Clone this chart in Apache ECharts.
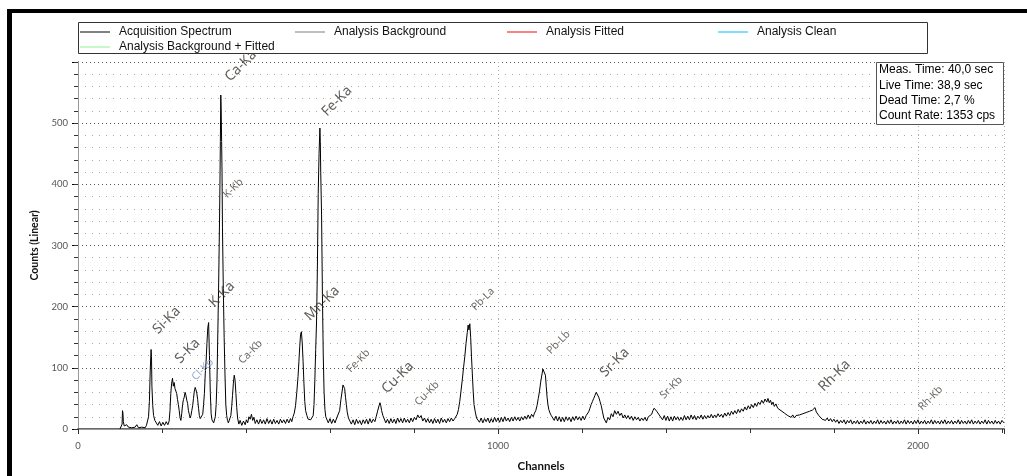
<!DOCTYPE html>
<html><head><meta charset="utf-8">
<script src="https://cdn.jsdelivr.net/npm/echarts@6/dist/echarts.min.js"></script>
<style>html,body{margin:0;padding:0;background:#fff}#c{width:1027px;height:476px}</style>
</head><body><div id="c"></div>
<script>
// Acquisition spectrum: [channel, counts]
const spectrum = [
[100,0],[103,2],[105,8],[106,30],[107,26],[108,12],[110,5],[113,2],[116,7],[120,3],[124,6],[128,2],[132,5],[136,3],[140,7],[144,2],[148,5],[152,3],[156,6],[160,2],[163,6],[166,8],[168,20],[170,45],[172,95],[174,130],[175,118],[176,70],[178,38],[180,22],[183,14],[186,14],[190,6],[194,12],[198,5],[202,11],[206,6],[210,12],[214,7],[217,13],[219,30],[221,58],[223,75],[225,83],[227,70],[229,76],[231,66],[233,62],[235,58],[237,48],[239,40],[241,30],[243,18],[245,14],[247,25],[249,40],[251,48],[253,52],[255,60],[257,55],[259,47],[261,42],[263,30],[265,24],[267,18],[269,22],[271,30],[273,38],[275,50],[277,62],[279,68],[281,64],[283,58],[285,48],[287,34],[289,22],[291,17],[293,14],[295,16],[297,24],[299,40],[301,58],[303,90],[305,110],[307,140],[309,165],[311,174],[313,120],[315,60],[317,25],[319,15],[321,12],[323,10],[325,13],
[327,20],[329,40],[331,80],[333,160],[335,240],[337,340],[338,400],[339,470],[340,546],[341,520],[342,470],[343,420],[344,330],[346,230],[348,150],[350,90],[352,40],[354,22],[356,14],[358,10],[361,12],[364,22],[366,37],[368,55],[370,75],[372,88],[374,80],[376,58],[378,35],[380,18],[383,8],[386,14],[390,6],[394,13],[398,7],[401,15],[404,10],[407,20],[410,16],[413,24],[416,14],[419,19],[422,9],[426,15],[430,8],[434,16],[438,9],[442,15],[446,8],[450,17],[454,9],[458,15],[462,8],[466,16],[470,9],[474,14],[478,8],[482,16],[486,10],[490,15],[494,9],[498,16],[502,10],[506,17],[509,12],[512,20],[515,26],[518,38],[521,60],[524,86],[526,110],[528,135],[530,155],[532,159],[534,140],[536,110],[538,75],[540,45],[542,30],[545,22],[548,16],[551,14],[554,15],[557,18],[560,22],[562,40],[564,80],[566,130],[568,175],[570,260],[572,385],[574,450],[576,492],[577,470],[578,420],[580,350],[582,220],[584,120],[586,60],[588,32],[590,20],[593,18],[596,10],[600,17],[604,9],[608,16],[612,10],[616,18],[620,20],[623,30],[626,48],[629,62],[631,72],[633,75],[635,66],[637,52],[639,40],[641,28],[644,18],[647,18],[651,8],[655,15],[659,7],[663,16],[667,9],[671,14],[675,7],[679,15],[683,9],[687,16],[691,8],[695,17],[699,10],[703,16],[707,12],[710,20],[713,28],[716,36],[719,43],[721,38],[723,30],[726,22],[729,20],[733,10],[737,16],[741,9],[745,17],[749,10],[753,16],[757,9],[761,18],[765,11],[769,17],[773,10],[777,18],[781,11],[785,16],[789,10],[793,18],[797,12],[801,19],[805,15],[809,23],[813,18],[817,22],[821,13],[825,18],[829,11],[833,17],[837,10],[841,16],[845,9],[849,17],[853,10],[857,16],[861,9],[865,18],[869,11],[873,16],[877,10],[881,17],[885,12],[889,18],[893,13],[897,17],[900,19],[903,24],[906,32],[909,45],[912,62],[915,80],[918,100],[921,118],[924,140],[927,158],[929,170],[931,162],[933,172],[935,150],[937,118],[939,90],[941,62],[943,40],[946,28],[949,18],[952,20],[956,11],[960,18],[964,10],[968,17],[972,12],[976,18],[980,10],[984,17],[988,11],[992,19],[996,12],
[1000,18],[1004,11],[1008,19],[1012,12],[1016,20],[1020,13],[1024,18],[1028,12],[1032,19],[1036,13],[1040,20],[1044,14],[1048,19],[1052,13],[1056,20],[1060,15],[1064,21],[1068,16],[1072,23],[1076,17],[1080,24],[1084,20],[1087,26],[1090,30],[1093,38],[1096,50],[1099,62],[1102,78],[1105,90],[1107,98],[1109,100],[1111,95],[1113,88],[1115,70],[1117,52],[1119,40],[1121,32],[1124,26],[1127,22],[1130,22],[1134,14],[1138,21],[1142,13],[1146,20],[1150,12],[1154,19],[1158,12],[1162,20],[1166,14],[1170,19],[1174,12],[1178,20],[1182,14],[1186,21],[1190,15],[1194,20],[1198,14],[1202,21],[1206,15],[1210,22],[1213,24],[1216,28],[1219,34],[1222,40],[1225,45],[1228,50],[1231,55],[1234,60],[1236,58],[1238,60],[1240,52],[1243,45],[1246,38],[1249,28],[1252,18],[1255,16],[1258,10],[1262,19],[1266,15],[1270,25],[1274,20],[1278,30],[1282,24],[1286,29],[1290,22],[1294,26],[1298,18],[1302,23],[1306,17],[1310,22],[1314,16],[1318,21],[1322,14],[1326,20],[1330,15],[1334,19],[1338,13],[1342,18],[1346,14],[1350,19],[1354,13],[1358,20],[1362,20],[1366,24],[1369,30],[1372,34],[1375,32],[1378,29],[1381,27],[1384,23],[1388,22],[1392,15],[1396,22],[1400,14],[1404,21],[1408,13],[1412,20],[1416,13],[1420,21],[1424,15],[1428,20],[1432,14],[1436,19],[1440,14],[1444,22],[1448,15],[1452,21],[1456,15],[1460,23],[1464,16],[1468,22],[1472,15],[1476,21],[1480,17],[1484,23],[1488,16],[1492,22],[1496,17],
[1500,22],[1504,18],[1508,24],[1512,18],[1516,23],[1520,19],[1524,25],[1528,20],[1532,24],[1536,19],[1540,26],[1544,21],[1548,27],[1552,22],[1556,29],[1560,24],[1564,30],[1568,25],[1572,32],[1576,27],[1580,33],[1584,29],[1588,36],[1592,31],[1596,38],[1600,33],[1604,40],[1608,35],[1612,42],[1616,37],[1620,44],[1624,40],[1628,47],[1632,42],[1636,49],[1640,44],[1643,50],[1646,43],[1649,47],[1652,40],[1655,44],[1658,37],[1662,41],[1666,34],[1670,37],[1674,30],[1678,32],[1682,26],[1686,28],[1690,22],[1694,25],[1698,19],[1702,23],[1706,18],[1710,22],[1714,19],[1718,23],[1722,20],[1726,25],[1730,22],[1734,27],[1738,24],[1742,29],[1746,26],[1749,31],[1752,30],[1755,35],[1758,28],[1761,30],[1764,22],[1768,23],[1772,16],[1776,19],[1780,14],[1784,18],[1788,13],[1792,17],[1796,12],[1800,16],[1804,11],[1808,15],[1812,9],[1816,14],[1820,10],[1824,15],[1828,8],[1832,14],[1836,10],[1840,15],[1844,8],[1848,13],[1852,9],[1856,14],[1860,8],[1864,13],[1868,9],[1872,15],[1876,8],[1880,13],[1884,9],[1888,14],[1892,8],[1896,13],[1900,9],[1904,15],[1908,8],[1912,14],[1916,9],[1920,13],[1924,8],[1928,14],[1932,9],[1936,15],[1940,8],[1944,13],[1948,9],[1952,14],[1956,8],[1960,13],[1964,9],[1968,15],[1972,8],[1976,14],[1980,9],[1984,13],[1988,8],[1992,14],[1996,9],
[2000,15],[2004,8],[2008,13],[2012,9],[2016,14],[2020,8],[2024,13],[2028,9],[2032,15],[2036,8],[2040,14],[2044,9],[2048,13],[2052,8],[2056,14],[2060,9],[2064,15],[2068,8],[2072,13],[2076,9],[2080,14],[2084,8],[2088,13],[2092,9],[2096,15],[2100,8],[2104,14],[2108,9],[2112,13],[2116,8],[2120,14],[2124,9],[2128,15],[2132,8],[2136,13],[2140,9],[2144,14],[2148,8],[2152,13],[2156,9],[2160,15],[2164,8],[2168,14],[2172,9],[2176,13],[2180,8],[2184,14],[2188,9],[2192,13],[2196,8],[2200,14],[2205,10]
];
// Peak annotations (anchor in channel / counts units)
const peakNames    = ['Si-Ka','S-Ka','Cl-Kb','K-Ka','Ca-Ka','K-Kb','Ca-Kb','Mn-Ka','Fe-Ka','Fe-Kb','Cu-Ka','Cu-Kb','Pb-La','Pb-Lb','Sr-Ka','Sr-Kb','Rh-Ka','Rh-Kb'];
const peakChannels = [197,250,286,331,369,361,397,559,599,655,742,817,952,1131,1262,1401,1782,2016];
const peakCounts   = [150,102,75,194,563,373,102,172,506,88,53,34,189,118,80,45,56,26];
const seriesNames  = ['Acquisition Spectrum','Analysis Background','Analysis Fitted','Analysis Clean','Analysis Background + Fitted'];
const seriesColors = ['#000000','#808080','#ff0000','#00bfff','#90ee90'];
const infoLines    = ['Meas. Time: 40,0 sec','Live Time: 38,9 sec','Dead Time: 2,7 %','Count Rate: 1353 cps'];
const xName = 'Channels', yName = 'Counts (Linear)';

const chart = echarts.init(document.getElementById('c'), null, {renderer:'canvas'});
const legendPos = [[80,26],[295,26],[507,26],[718,26],[80,41]];
const legends = seriesNames.map((n,i)=>({
  data:[n], left:legendPos[i][0], top:legendPos[i][1], padding:0, z:10,
  icon:'rect', itemWidth:30, itemHeight:1, selectedMode:false,
  textStyle:{fontFamily:'Liberation Sans', fontSize:12, color:'#111', padding:[0,0,0,4]}
}));
const series = [{
  name:seriesNames[0], type:'line', data:spectrum, showSymbol:false, symbol:'none',
  lineStyle:{color:seriesColors[0], width:1}, itemStyle:{color:seriesColors[0]}, z:3, animation:false
}];
for (let i=1;i<seriesNames.length;i++){
  series.push({name:seriesNames[i], type:'line', data:[], showSymbol:false,
    lineStyle:{color:seriesColors[i], width:1}, itemStyle:{color:seriesColors[i]}});
}
series.push({
  name:'peaks', type:'scatter', symbolSize:1, itemStyle:{color:'rgba(0,0,0,0)'}, z:4, silent:true,
  data: peakNames.map((n,i)=>{
    const big = /-Ka$/.test(n);
    return {value:[peakChannels[i], peakCounts[i]], name:n,
      label:{show:true, formatter:n, position:[0,0], rotate:45, align:'left', verticalAlign:'bottom',
        fontFamily:'Noto Sans', fontSize: big?14:10.5,
        color: n==='Cl-Kb' ? '#7d95c4' : (big?'#3a3530':'#4a4540')}};
  })
});
const frame = '#000';
const plain = v => String(v);
chart.setOption({
  animation:false,
  backgroundColor:'#fff',
  legend: legends,
  grid:{left:78, right:23, top:62, bottom:47, containLabel:false, outerBoundsMode:'none'},
  xAxis:[{
    type:'value', min:0, max:2205, interval:1000, position:'bottom',
    name:xName, nameLocation:'middle', nameGap:31,
    nameTextStyle:{fontFamily:'Lato', fontWeight:'bold', fontSize:11.5, color:'#111'},
    axisLine:{show:true, onZero:false, lineStyle:{color:'#6a6a6a', width:2}},
    axisTick:{show:true, length:5, lineStyle:{color:'#333'}},
    minorTick:{show:true, splitNumber:5, length:4, lineStyle:{color:'#333'}},
    axisLabel:{showMaxLabel:false, margin:12, fontFamily:'Lato', fontSize:9.5, color:'#555', formatter:plain},
    splitLine:{show:true, lineStyle:{color:'#b0b0b0', type:[1,3], width:1}}
  },{
    type:'value', min:0, max:2205, interval:200, position:'top',
    axisLine:{show:true, lineStyle:{color:'#999', width:1}},
    axisTick:{show:true, inside:true, length:4, lineStyle:{color:'#333'}},
    axisLabel:{show:false}, splitLine:{show:false}
  }],
  yAxis:[{
    type:'value', min:0, max:600, interval:100, position:'left',
    name:yName, nameLocation:'middle', nameGap:30, nameRotate:90,
    nameTextStyle:{fontFamily:'Lato', fontWeight:'bold', fontSize:10.5, color:'#111'},
    axisLine:{show:true, onZero:false, lineStyle:{color:'#000', width:1}},
    axisTick:{show:true, length:6, lineStyle:{color:'#000'}},
    minorTick:{show:true, splitNumber:5, length:4, lineStyle:{color:'#000'}},
    axisLabel:{showMaxLabel:false, margin:10, fontFamily:'Lato', fontSize:9.5, color:'#555', formatter:plain},
    splitLine:{show:true, lineStyle:{color:'#555', type:[1,3], width:1}},
    minorSplitLine:{show:true, lineStyle:{color:'#aaa', type:[1,6], width:1}}
  },{
    type:'value', min:0, max:600, interval:20, position:'right',
    axisLine:{show:true, lineStyle:{color:'#999', width:1}},
    axisTick:{show:true, inside:true, length:4, lineStyle:{color:'#333'}},
    axisLabel:{show:false}, splitLine:{show:false}
  }],
  series: series,
  graphic:[
    {type:'rect', z:5, shape:{x:78.5, y:22.5, width:849, height:31}, style:{fill:'#fff', stroke:'#333', lineWidth:1}},
    {type:'rect', z:6, shape:{x:7, y:9, width:1020, height:4}, style:{fill:frame}},
    {type:'rect', z:6, shape:{x:7, y:9, width:5, height:467}, style:{fill:frame}},
    {type:'rect', z:5, shape:{x:876.5, y:62.5, width:127, height:62}, style:{fill:'#fff', stroke:'#555', lineWidth:1}},
    ...infoLines.map((t,i)=>({type:'text', z:6, x:879, y:70+i*15.3,
      style:{text:t, fill:'#000', font:'12px "Liberation Sans"', textVerticalAlign:'middle', verticalAlign:'middle'}}))
  ]
});
</script></body></html>
